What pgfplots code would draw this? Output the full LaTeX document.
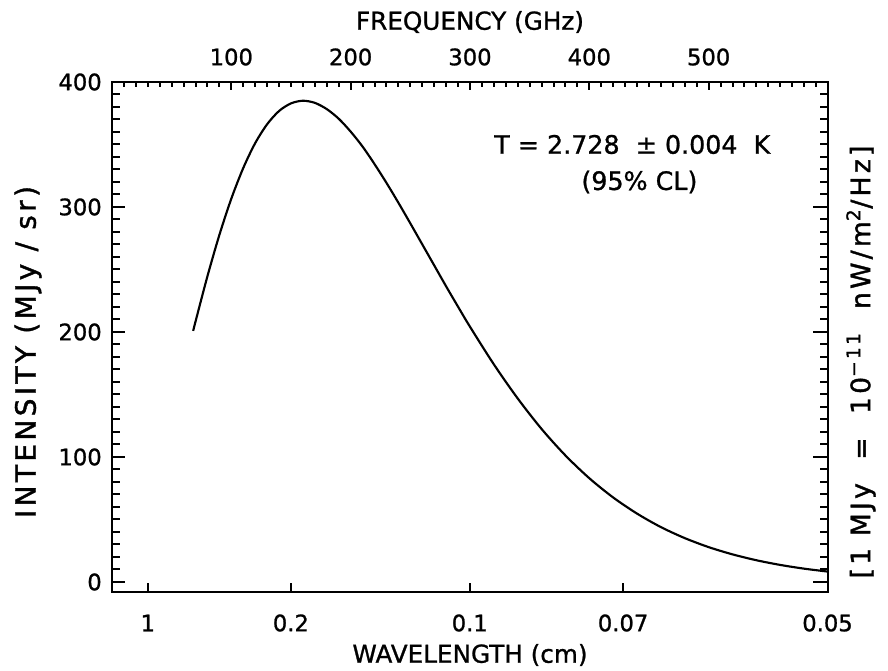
\documentclass[border=0pt]{standalone}
\usepackage{fontspec}
\setmainfont{DejaVu Sans}[FakeBold=1]
\newfontfamily\widefont{DejaVu Sans}[FakeBold=1.3, LetterSpace=12]
\usepackage{pgfplots}
\pgfplotsset{compat=1.18}
\newcommand{\ts}{\fontsize{17}{20}\selectfont}
\newcommand{\ls}{\fontsize{18.5}{22}\selectfont}
\newcommand{\vs}{\widefont\fontsize{20}{24}\selectfont}
\newcommand{\vsl}{\widefont\fontsize{21}{25}\selectfont}
\begin{document}
\begin{tikzpicture}
\begin{axis}[
  name=main,
  scale only axis, width=537pt, height=382.5pt,
  xmin=0, xmax=600, ymin=-8, ymax=400,
  axis line style={line width=2pt},
  tick align=inside,
  every tick/.style={black, line width=1.5pt},
  xtick={29.98,149.9,299.8,428.3,599.6},
  xticklabels={1,0.2,0.1,0.07,0.05},
  xtick pos=left,
  ytick pos=left,
  ytick={0,100,200,300,400},
  minor y tick num=9,
  major tick length=10pt, minor tick length=6pt,
  xtick style={/pgfplots/major tick length=7pt},
  /pgf/number format/assume math mode=true,
  xticklabel style={font=\ts, anchor=center, inner sep=0pt, yshift=-23.25pt},
  yticklabel style={font=\ts, anchor=east, inner sep=0pt, xshift=-7.5pt},
  clip=false,
]
\addplot[black, line width=1.6pt, smooth] coordinates {
(68,200.9) (70,208.4) (80,244.7) (90,277.7) (100,306.7) (110,331.2)
(120,351.1) (130,366.2) (140,376.8) (150,382.9) (160,385.0) (170,383.3)
(180,378.3) (190,370.6) (200,360.3) (210,348.3) (220,334.3) (230,319.3)
(240,303.4) (250,286.9) (260,270.1) (270,253.3) (280,236.5) (290,220.2)
(300,204.2) (320,174.1) (340,146.8) (360,122.4) (380,101.2) (400,83.0)
(420,67.6) (440,54.7) (460,43.9) (480,35.1) (500,27.9) (520,22.1)
(540,17.4) (560,13.65) (580,10.67) (600,8.31)
};
\node[font=\fontsize{19}{23}\selectfont] at (axis cs:436,350) {T = 2.728 \ ± 0.004 \ K};
\node[font=\fontsize{19}{23}\selectfont] at (axis cs:442,320) {(95\% CL)};
\end{axis}
\begin{axis}[
  scale only axis, width=537pt, height=382.5pt,
  xmin=0, xmax=600, ymin=-8, ymax=400,
  axis line style={line width=2pt},
  tick align=inside,
  every tick/.style={black, line width=1.5pt},
  xtick={0,100,...,600},
  xticklabels={,100,200,300,400,500,},
  xtick pos=right, xticklabel pos=right,
  minor x tick num=9,
  ytick={0,100,...,400},
  yticklabels={},
  ytick pos=right,
  minor y tick num=9,
  major tick length=11pt, minor tick length=6pt,
  xtick style={/pgfplots/major tick length=6pt, /pgfplots/minor tick length=3.75pt},
  xticklabel style={font=\ts, anchor=center, inner sep=0pt, yshift=18.75pt},
  clip=false,
]
\node[font=\ls, yshift=-47.25pt] at (rel axis cs:0.5,0) {WAVELENGTH (cm)};
\node[font=\ls, yshift=427.5pt] at (rel axis cs:0.5,0) {FREQUENCY (GHz)};
\node[font=\vsl, xshift=-63pt, yshift=180pt, rotate=90] at (rel axis cs:0,0) {INTENSITY (MJy / sr)};
\node[font=\vs, xshift=561.75pt, yshift=172.5pt, rotate=90] at (rel axis cs:0,0) {[1 MJy \ = \ 10\textsuperscript{−11} \ nW/m\textsuperscript{2}/Hz]};
\end{axis}
\path ([shift={(-84pt,-58.5pt)}]current axis.south west) rectangle ([shift={(45pt,61.5pt)}]current axis.north east);
\end{tikzpicture}
\end{document}
